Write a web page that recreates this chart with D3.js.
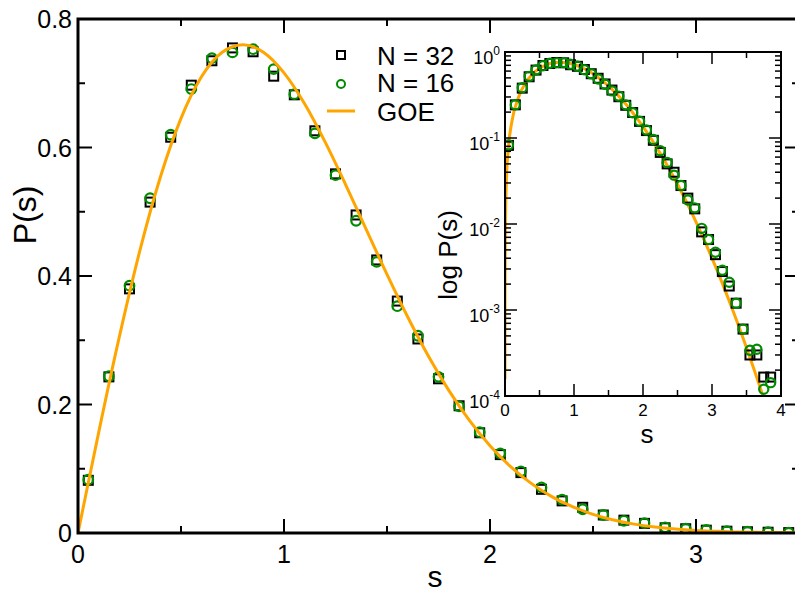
<!DOCTYPE html>
<html>
<head>
<meta charset="utf-8">
<script src="https://cdn.jsdelivr.net/npm/d3@7"></script>
<style>
  body { margin: 0; background: #fff; }
  text { font-family: "Liberation Sans", Arial, Helvetica, sans-serif; fill: #000; }
</style>
</head>
<body>
<div class="viz"></div>
<script>
const width = 795;
const height = 593;

// bin centres
const sVals = [0.05, 0.15, 0.25, 0.35, 0.45, 0.55, 0.65, 0.75, 0.85, 0.95,
  1.05, 1.15, 1.25, 1.35, 1.45, 1.55, 1.65, 1.75, 1.85, 1.95,
  2.05, 2.15, 2.25, 2.35, 2.45, 2.55, 2.65, 2.75, 2.85, 2.95,
  3.05, 3.15, 3.25, 3.35, 3.45, 3.55, 3.65, 3.75, 3.85];

// N = 32 (squares)
const n32 = [0.082, 0.243, 0.380, 0.515, 0.616, 0.697, 0.735, 0.755, 0.749, 0.711,
  0.682, 0.626, 0.559, 0.495, 0.425, 0.361, 0.302, 0.240, 0.198, 0.156,
  0.122, 0.094, 0.068, 0.050, 0.040, 0.028, 0.020, 0.0150, 0.0081, 0.0066,
  0.0044, 0.0028, 0.0019, 0.0012, 0.0006, 0.00030, 0.00030, 0.000166, 0.000166];

// N = 16 (circles)
const n16 = [0.083, 0.244, 0.385, 0.521, 0.620, 0.691, 0.739, 0.748, 0.753, 0.722,
  0.683, 0.622, 0.557, 0.486, 0.422, 0.353, 0.307, 0.243, 0.197, 0.157,
  0.124, 0.096, 0.071, 0.052, 0.037, 0.028, 0.019, 0.0154, 0.0089, 0.0066,
  0.0047, 0.0029, 0.0021, 0.0012, 0.0006, 0.00034, 0.00035, 0.00012, 0.000143];

// GOE curve
const goeS = [0, 0.0001, 0.001, 0.005, 0.02, 0.05, 0.1, 0.2, 0.3, 0.4, 0.5, 0.6, 0.7, 0.8, 0.9, 1.0,
  1.1, 1.2, 1.3, 1.4, 1.5, 1.6, 1.7, 1.8, 1.9, 2.0,
  2.1, 2.2, 2.3, 2.4, 2.5, 2.6, 2.7, 2.8, 2.9, 3.0,
  3.1, 3.2, 3.3, 3.4, 3.5, 3.6, 3.7, 3.8];
const goeP = [0, 0.000157, 0.00157, 0.00785, 0.0314, 0.0784, 0.1559, 0.3044, 0.4391, 0.5541, 0.6454, 0.7104, 0.7483, 0.7601, 0.7483, 0.7162,
  0.6680, 0.6083, 0.5416, 0.4717, 0.4025, 0.3366, 0.2759, 0.2220, 0.1752, 0.1358,
  0.1033, 0.0772, 0.0567, 0.04088, 0.02899, 0.02020, 0.01383, 0.009311, 0.006163, 0.004011,
  0.002567, 0.001615, 0.0009995, 0.0006083, 0.0003643, 0.0002147, 0.0001243, 0.0000709];

const mainXTicks = [0, 1, 2, 3];
const mainYTicks = [0, 0.2, 0.4, 0.6, 0.8];
const insetXTicks = [0, 1, 2, 3, 4];
const insetYExp = [0, -1, -2, -3, -4];

const green = "#008c00";
const orange = "#ffa500";

const pts32 = sVals.map((s, i) => ({ s: s, p: n32[i] }));
const pts16 = sVals.map((s, i) => ({ s: s, p: n16[i] }));
const goe = goeS.map((s, i) => ({ s: s, p: goeP[i] }));

const svg = d3.select(".viz")
  .append("svg")
  .attr("width", width)
  .attr("height", height);

// ---------- main plot ----------
const mx = d3.scaleLinear().domain([0, 3.5]).range([78, 799]);
const my = d3.scaleLinear().domain([0, 0.8]).range([533, 19]);

svg.append("clipPath").attr("id", "mainClip")
  .append("rect")
  .attr("x", mx(0)).attr("y", my(0.8))
  .attr("width", mx(3.5) - mx(0)).attr("height", my(0) - my(0.8));

const mainG = svg.append("g").attr("clip-path", "url(#mainClip)");

function drawMarkers(g, xs, ys, sq, ci, size, r) {
  g.selectAll(".sq")
    .data(sq)
    .enter()
    .append("rect")
    .attr("x", d => xs(d.s) - size / 2)
    .attr("y", d => ys(d.p) - size / 2)
    .attr("width", size)
    .attr("height", size)
    .style("fill", "none")
    .style("stroke", "#000")
    .style("stroke-width", 2);

  g.selectAll(".ci")
    .data(ci)
    .enter()
    .append("circle")
    .attr("cx", d => xs(d.s))
    .attr("cy", d => ys(d.p))
    .attr("r", r)
    .style("fill", "none")
    .style("stroke", green)
    .style("stroke-width", 2.2);
}

drawMarkers(mainG, mx, my, pts32, pts16, 9, 4.8);

mainG.append("path")
  .datum(goe)
  .attr("d", d3.line().x(d => mx(d.s)).y(d => my(d.p)).curve(d3.curveMonotoneX))
  .style("fill", "none")
  .style("stroke", orange)
  .style("stroke-width", 3);

// frame and ticks
const frame = svg.append("g");
frame.append("rect")
  .attr("x", mx(0)).attr("y", my(0.8))
  .attr("width", mx(3.5) - mx(0)).attr("height", my(0) - my(0.8))
  .style("fill", "none")
  .style("stroke", "#000")
  .style("stroke-width", 3);

const mxMinor = d3.range(0, 3.51, 0.5);
mxMinor.forEach(v => {
  const len = Number.isInteger(v) ? 14 : 7;
  frame.append("line")
    .attr("x1", mx(v)).attr("x2", mx(v))
    .attr("y1", my(0)).attr("y2", my(0) - len)
    .style("stroke", "#000").style("stroke-width", 2);
  frame.append("line")
    .attr("x1", mx(v)).attr("x2", mx(v))
    .attr("y1", my(0.8)).attr("y2", my(0.8) + len)
    .style("stroke", "#000").style("stroke-width", 2);
});
const myMinor = d3.range(0, 0.81, 0.1);
myMinor.forEach((v, i) => {
  const len = i % 2 === 0 ? 14 : 7;
  frame.append("line")
    .attr("x1", mx(0)).attr("x2", mx(0) + len)
    .attr("y1", my(v)).attr("y2", my(v))
    .style("stroke", "#000").style("stroke-width", 2);
  frame.append("line")
    .attr("x1", mx(3.5)).attr("x2", mx(3.5) - len)
    .attr("y1", my(v)).attr("y2", my(v))
    .style("stroke", "#000").style("stroke-width", 2);
});

svg.selectAll(".mxl")
  .data(mainXTicks)
  .enter()
  .append("text")
  .attr("x", d => mx(d))
  .attr("y", 563)
  .attr("text-anchor", "middle")
  .style("font-size", "25px")
  .text(d => d);

svg.selectAll(".myl")
  .data(mainYTicks)
  .enter()
  .append("text")
  .attr("x", 72)
  .attr("y", d => my(d) + 9)
  .attr("text-anchor", "end")
  .style("font-size", "25px")
  .text(d => d === 0 ? "0" : d.toFixed(1));

svg.append("text")
  .attr("x", 435)
  .attr("y", 587)
  .attr("text-anchor", "middle")
  .style("font-size", "30px")
  .text("s");

svg.append("text")
  .attr("transform", "translate(36,215) rotate(-90)")
  .attr("text-anchor", "middle")
  .style("font-size", "32px")
  .text("P(s)");

// legend
const legend = svg.append("g");
legend.append("rect")
  .attr("x", 337).attr("y", 51).attr("width", 8).attr("height", 8)
  .style("fill", "none").style("stroke", "#000").style("stroke-width", 2);
legend.append("circle")
  .attr("cx", 341).attr("cy", 84).attr("r", 4)
  .style("fill", "none").style("stroke", green).style("stroke-width", 2);
legend.append("line")
  .attr("x1", 327).attr("x2", 355).attr("y1", 111).attr("y2", 111)
  .style("stroke", orange).style("stroke-width", 3);
[["N = 32", 65], ["N = 16", 92], ["GOE", 121]].forEach(([t, y]) => {
  legend.append("text")
    .attr("x", 377).attr("y", y)
    .style("font-size", "26px")
    .text(t);
});

// ---------- inset ----------
const ix = d3.scaleLinear().domain([0, 4]).range([505, 781]);
const iy = d3.scaleLog().domain([1e-4, 1]).range([396, 52]);

svg.append("rect")
  .attr("x", ix(0)).attr("y", iy(1))
  .attr("width", ix(4) - ix(0)).attr("height", iy(1e-4) - iy(1))
  .style("fill", "#fff");

svg.append("clipPath").attr("id", "insetClip")
  .append("rect")
  .attr("x", ix(0)).attr("y", iy(1))
  .attr("width", ix(4) - ix(0)).attr("height", iy(1e-4) - iy(1));

const insetG = svg.append("g").attr("clip-path", "url(#insetClip)");

// log axis: skip the zero point
insetG.append("path")
  .datum(goe.filter(d => d.p > 0))
  .attr("d", d3.line().x(d => ix(d.s)).y(d => iy(d.p)).curve(d3.curveMonotoneX))
  .style("fill", "none")
  .style("stroke", orange)
  .style("stroke-width", 3);

drawMarkers(insetG, ix, iy, pts32, pts16, 9, 4.6);

const iframe = svg.append("g");
iframe.append("rect")
  .attr("x", ix(0)).attr("y", iy(1))
  .attr("width", ix(4) - ix(0)).attr("height", iy(1e-4) - iy(1))
  .style("fill", "none")
  .style("stroke", "#000")
  .style("stroke-width", 2);

d3.range(0, 4.01, 0.5).forEach(v => {
  const len = Number.isInteger(v) ? 12 : 6;
  iframe.append("line")
    .attr("x1", ix(v)).attr("x2", ix(v))
    .attr("y1", iy(1e-4)).attr("y2", iy(1e-4) - len)
    .style("stroke", "#000").style("stroke-width", 1.5);
  iframe.append("line")
    .attr("x1", ix(v)).attr("x2", ix(v))
    .attr("y1", iy(1)).attr("y2", iy(1) + len)
    .style("stroke", "#000").style("stroke-width", 1.5);
});

// log ticks, decades and 2..9
const logTicks = [];
for (let e = -4; e <= 0; e++) {
  for (let m = 1; m <= 9; m++) {
    const v = m * Math.pow(10, e);
    if (v <= 1) logTicks.push({ v: v, major: m === 1 });
  }
}
logTicks.forEach(t => {
  const len = t.major ? 12 : 6;
  iframe.append("line")
    .attr("x1", ix(0)).attr("x2", ix(0) + len)
    .attr("y1", iy(t.v)).attr("y2", iy(t.v))
    .style("stroke", "#000").style("stroke-width", 1.5);
  iframe.append("line")
    .attr("x1", ix(4)).attr("x2", ix(4) - len)
    .attr("y1", iy(t.v)).attr("y2", iy(t.v))
    .style("stroke", "#000").style("stroke-width", 1.5);
});

svg.selectAll(".ixl")
  .data(insetXTicks)
  .enter()
  .append("text")
  .attr("x", d => ix(d))
  .attr("y", 416)
  .attr("text-anchor", "middle")
  .style("font-size", "17px")
  .text(d => d);

const iyl = svg.selectAll(".iyl")
  .data(insetYExp)
  .enter()
  .append("text")
  .attr("x", 500)
  .attr("y", d => iy(Math.pow(10, d)) + 12)
  .attr("text-anchor", "end")
  .style("font-size", "18px");
iyl.append("tspan").text("10");
iyl.append("tspan")
  .attr("dy", -9)
  .style("font-size", "12px")
  .text(d => d);

svg.append("text")
  .attr("x", 647)
  .attr("y", 443)
  .attr("text-anchor", "middle")
  .style("font-size", "26px")
  .text("s");

svg.append("text")
  .attr("transform", "translate(457,255) rotate(-90)")
  .attr("text-anchor", "middle")
  .style("font-size", "26px")
  .text("log P(s)");
</script>
</body>
</html>
